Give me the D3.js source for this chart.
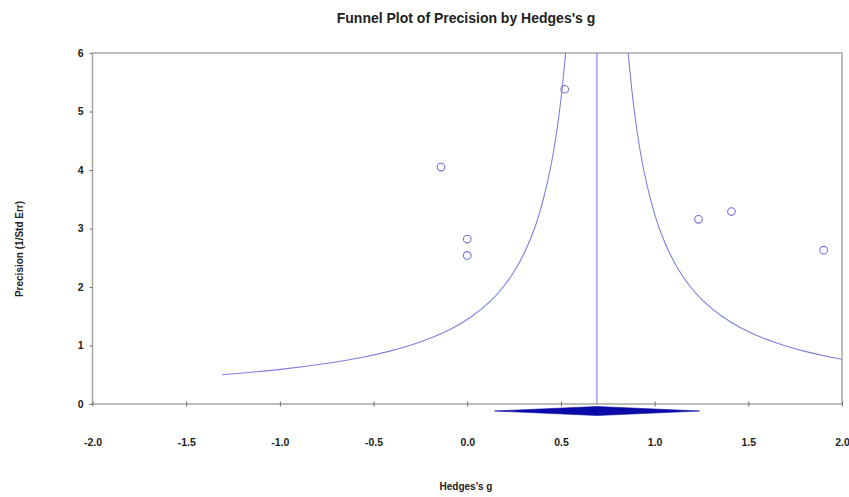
<!DOCTYPE html>
<html>
<head>
    <title>Funnel Plot</title>
    <script src="https://d3js.org/d3.v7.min.js"></script>
    <style>
        body { margin: 0; background: #fff; }
        text { font-family: "Liberation Sans", Arial, sans-serif; font-weight: bold; fill: #222; }
        .tick-label { font-size: 10.5px; }
        .funnel { fill: none; stroke: #7f7fe0; stroke-width: 1.1; }
        .study { fill: none; stroke: #7070dc; stroke-width: 1.1; }
    </style>
</head>
<body>
    <svg width="849" height="497"></svg>

    <script>
        // studies: Hedges's g and precision (1/SE)
        const studyG = [0.52, -0.14, 0.0, 0.0, 1.234, 1.41, 1.902];
        const studyPrecision = [5.38, 4.05, 2.82, 2.54, 3.157, 3.29, 2.63];

        // summary effect and its CI (diamond)
        const summaryG = 0.692;
        const summaryLow = 0.146;
        const summaryHigh = 1.24;

        // funnel limits
        const funnelPrecision = [0.5, 0.6, 0.7, 0.8, 0.9, 1.0, 1.15, 1.3, 1.5, 1.75, 2.0, 2.3, 2.6, 3.0, 3.25, 3.5, 4.0, 4.5, 5.0, 5.5, 6.0];
        const funnelLeftG = [-1.308, -0.975, -0.737, -0.558, -0.419, -0.308, -0.178, -0.077, 0.025, 0.121, 0.192, 0.257, 0.307, 0.359, 0.384, 0.406, 0.442, 0.470, 0.492, 0.510, 0.525];
        const funnelRightG = [2.692, 2.359, 2.121, 1.942, 1.803, 1.692, 1.562, 1.461, 1.359, 1.263, 1.192, 1.127, 1.077, 1.025, 1.000, 0.978, 0.942, 0.914, 0.892, 0.874, 0.859];

        const xTicks = [-2.0, -1.5, -1.0, -0.5, 0.0, 0.5, 1.0, 1.5, 2.0];
        const yTicks = [0, 1, 2, 3, 4, 5, 6];

        const svg = d3.select("svg");
        const margin = {left: 92.5, top: 53, right: 7, bottom: 93};
        const width = 849 - margin.left - margin.right;
        const height = 497 - margin.top - margin.bottom;

        const x = d3.scaleLinear().domain([-2, 2]).range([margin.left, margin.left + width]);
        const y = d3.scaleLinear().domain([0, 6]).range([margin.top + height, margin.top]);

        svg.append("defs").append("clipPath").attr("id", "plot-clip")
            .append("rect")
            .attr("x", x(-2)).attr("y", y(6))
            .attr("width", x(2) - x(-2)).attr("height", y(0) - y(6));

        // title
        svg.append("text")
            .attr("x", 466).attr("y", 22.5)
            .attr("text-anchor", "middle")
            .style("font-size", "14px")
            .text("Funnel Plot of Precision by Hedges's g");

        // plot frame
        svg.append("rect")
            .attr("x", x(-2)).attr("y", y(6))
            .attr("width", x(2) - x(-2)).attr("height", y(0) - y(6))
            .attr("fill", "none")
            .attr("stroke", "#a6a6a6")
            .attr("stroke-width", 1.5);

        // x axis
        const xAxis = svg.append("g")
            .attr("transform", `translate(0,${y(0)})`)
            .call(d3.axisBottom(x).tickValues(xTicks).tickSize(0).tickPadding(35));
        xAxis.select(".domain").remove();
        xAxis.selectAll(".tick").append("line")
            .attr("y1", -2.5).attr("y2", 2.5)
            .attr("stroke", "#707070");
        xAxis.selectAll(".tick text")
            .attr("class", "tick-label")
            .attr("font-family", null).attr("font-size", null).attr("fill", null)
            .text(d => d.toFixed(1));

        // y axis
        const yAxis = svg.append("g")
            .attr("transform", `translate(${x(-2)},0)`)
            .call(d3.axisLeft(y).tickValues(yTicks).tickSize(3).tickPadding(6).tickFormat(d3.format("d")));
        yAxis.select(".domain").remove();
        yAxis.selectAll(".tick line").attr("stroke", "#707070");
        yAxis.selectAll(".tick text")
            .attr("class", "tick-label")
            .attr("font-family", null).attr("font-size", null).attr("fill", null);

        // axis titles
        svg.append("text")
            .attr("x", 466).attr("y", 490)
            .attr("text-anchor", "middle")
            .style("font-size", "10px")
            .text("Hedges's g");

        svg.append("text")
            .attr("transform", `translate(22.5,249) rotate(-90)`)
            .attr("text-anchor", "middle")
            .style("font-size", "10px")
            .text("Precision (1/Std Err)");

        const plot = svg.append("g").attr("clip-path", "url(#plot-clip)");

        // funnel limits
        const funnelLine = d3.line()
            .x(d => x(d[0]))
            .y(d => y(d[1]))
            .curve(d3.curveCatmullRom);

        plot.append("path")
            .attr("class", "funnel")
            .attr("d", funnelLine(funnelPrecision.map((p, i) => [funnelLeftG[i], p])));
        plot.append("path")
            .attr("class", "funnel")
            .attr("d", funnelLine(funnelPrecision.map((p, i) => [funnelRightG[i], p])));

        // summary line
        svg.append("line")
            .attr("x1", x(summaryG)).attr("x2", x(summaryG))
            .attr("y1", y(6)).attr("y2", y(0))
            .attr("stroke", "#7f7fe0")
            .attr("stroke-width", 1.1);

        // studies
        plot.selectAll("circle")
            .data(studyG)
            .enter().append("circle")
            .attr("class", "study")
            .attr("cx", d => x(d))
            .attr("cy", (d, i) => y(studyPrecision[i]))
            .attr("r", 3.8);

        // summary diamond
        const dy = y(0) + 7;
        svg.append("polygon")
            .attr("points", [
                [x(summaryLow), dy],
                [x(summaryG), dy - 4.5],
                [x(summaryHigh), dy],
                [x(summaryG), dy + 4.5]
            ].map(p => p.join(",")).join(" "))
            .attr("fill", "#0a0aa8")
            .attr("stroke", "#0a0aa8")
            .attr("stroke-width", 0.6);
    </script>
</body>
</html>
